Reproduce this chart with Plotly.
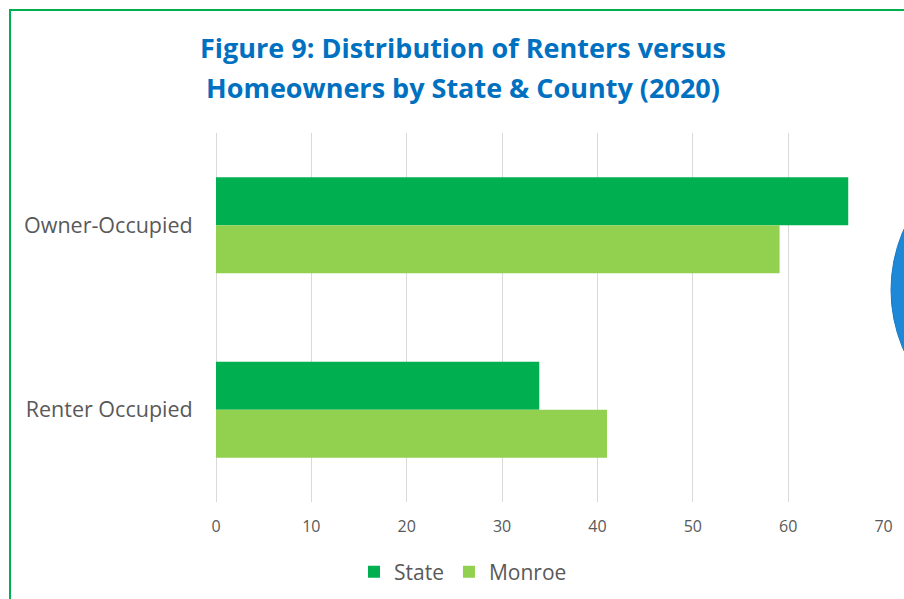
import plotly.graph_objects as go

categories = ["Owner-Occupied", "Renter Occupied"]
state_values = [66.3, 33.9]
monroe_values = [59.1, 41.0]
series_names = ["State", "Monroe"]
x_ticks = [0, 10, 20, 30, 40, 50, 60, 70]
title_lines = ["Figure 9: Distribution of Renters versus",
               "Homeowners by State & County (2020)"]

W, H = 904, 599
L, R, T, B = 216, 20, 133, 97
pw, ph = W - L - R, H - T - B

def px_x(px):
    return (px - L) / pw

def px_y(py):
    return (H - B - py) / ph

fig = go.Figure()
fig.add_trace(go.Bar(y=categories, x=state_values, name=series_names[0], orientation="h",
                     marker=dict(color="#00B050", line=dict(width=0))))
fig.add_trace(go.Bar(y=categories, x=monroe_values, name=series_names[1], orientation="h",
                     marker=dict(color="#92D050", line=dict(width=0))))

grey = "#595959"
fig.update_layout(
    width=W, height=H,
    margin=dict(l=L, r=R, t=T, b=B, pad=0, autoexpand=False),
    paper_bgcolor="white", plot_bgcolor="white",
    barmode="group", bargap=0.48, bargroupgap=0,
    font=dict(family="Open Sans", color=grey),
    showlegend=True,
    legend=dict(orientation="h", x=px_x(463), y=px_y(572), xanchor="center", yanchor="middle",
                font=dict(size=21, color=grey), traceorder="normal",
                bgcolor="rgba(0,0,0,0)"),
    xaxis=dict(range=[0, 70.05], tickvals=x_ticks, ticktext=[str(v) for v in x_ticks],
               showgrid=True, gridcolor="#D9D9D9", gridwidth=1,
               zeroline=True, zerolinecolor="#D9D9D9", zerolinewidth=1,
               showline=False, ticks="outside", ticklen=0, ticklabelstandoff=10,
               tickfont=dict(size=16, color=grey), fixedrange=True),
    yaxis=dict(autorange="reversed", showgrid=False, zeroline=False, showline=False,
               ticks="outside", ticklen=0, ticklabelstandoff=18,
               tickfont=dict(size=21.5, color=grey), fixedrange=True),
)

# title lines
for line, yc in zip(title_lines, [47, 87]):
    fig.add_annotation(text="<b>" + line + "</b>", xref="paper", yref="paper",
                       x=px_x(462.5), y=px_y(yc), xanchor="center", yanchor="middle",
                       showarrow=False, font=dict(family="Open Sans", size=27, color="#0070C0"))

# green chart border
fig.add_shape(type="rect", xref="paper", yref="paper",
              x0=px_x(10), x1=px_x(960), y0=px_y(660), y1=px_y(10),
              line=dict(color="#00B050", width=2), fillcolor="rgba(0,0,0,0)", layer="above")

# partial blue circle at the right edge
fig.add_shape(type="circle", xref="paper", yref="paper",
              x0=px_x(891), x1=px_x(1189), y0=px_y(439), y1=px_y(141),
              line=dict(color="#1A78C2", width=1), fillcolor="#1E88D8", layer="above")

fig.write_html("out.html", config={"displayModeBar": False},
               post_script="document.body.style.margin='0';document.body.style.overflow='hidden';")
